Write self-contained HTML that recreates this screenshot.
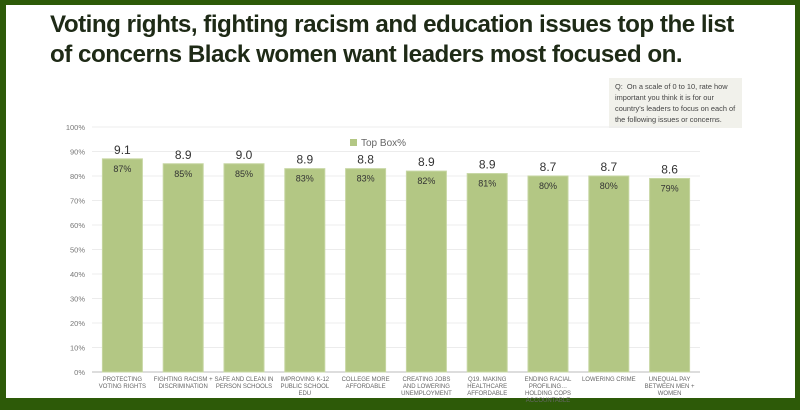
<!DOCTYPE html>
<html><head><meta charset="utf-8"><style>
body{margin:0;width:800px;height:410px;overflow:hidden;background:#2d5a08;font-family:"Liberation Sans",sans-serif}
#inner{position:absolute;left:6px;top:5px;width:789px;height:393px;background:#fff}
#title{position:absolute;left:44px;top:5px;font-size:24.2px;font-weight:bold;color:#1e2a16;line-height:30px;letter-spacing:-0.5px;margin:0}
#note{position:absolute;left:603px;top:73px;width:121px;height:44px;background:#f1f1eb;padding:3px 6px;font-size:7.4px;line-height:11px;color:#444}
svg{position:absolute;left:0;top:0}
</style></head><body>
<div id="inner">
<h1 id="title">Voting rights, fighting racism and education issues top the list<br>of concerns Black women want leaders most focused on.</h1>
<div id="note">Q:&nbsp; On a scale of 0 to 10, rate how important you think it is for our country's leaders to focus on each of the following issues or concerns.</div>
</div>
<svg id="chart" width="800" height="410"></svg>
<script>
const categories=[["PROTECTING","VOTING RIGHTS"],["FIGHTING RACISM +","DISCRIMINATION"],["SAFE AND CLEAN IN","PERSON SCHOOLS"],["IMPROVING K-12","PUBLIC SCHOOL","EDU"],["COLLEGE MORE","AFFORDABLE"],["CREATING JOBS","AND LOWERING","UNEMPLOYMENT"],["Q19.  MAKING","HEALTHCARE","AFFORDABLE"],["ENDING RACIAL","PROFILING…","HOLDING COPS","ACCOUNTABLE"],["LOWERING CRIME"],["UNEQUAL PAY","BETWEEN MEN +","WOMEN"]];
const topBox=[87,85,85,83,83,82,81,80,80,79];
const meanScores=["9.1","8.9","9.0","8.9","8.8","8.9","8.9","8.7","8.7","8.6"];
const yTicks=[0,10,20,30,40,50,60,70,80,90,100];
const svg=document.getElementById('chart');const NS='http://www.w3.org/2000/svg';
const x0=92,x1=700,y0=372,y1=127;
const yS=v=>y0-(v/100)*(y0-y1);
const bw=(x1-x0)/categories.length;
const xC=i=>x0+bw*(i+0.5);
function mk(t,a,txt){const e=document.createElementNS(NS,t);for(const k in a)e.setAttribute(k,a[k]);if(txt!==undefined)e.textContent=txt;svg.appendChild(e);return e;}
yTicks.forEach(v=>{
 const g=mk('line',{x1:x0,x2:x1,y1:yS(v),y2:yS(v),stroke:v?'#ececec':'#bbb','stroke-width':1});
 
 
 const t=mk('text',{x:85,y:yS(v)+3,'text-anchor':'end','font-size':7.5,fill:'#777'},v+'%');
 
 
});
categories.forEach((c,i)=>{
 const cx=xC(i),top=yS(topBox[i]);
 const r=mk('rect',{x:cx-20,y:top,width:40,height:y0-top,fill:'#b3c784',stroke:'#c6d6a2','stroke-width':1});
 
 
 const p=mk('text',{x:cx,y:top+13,'text-anchor':'middle','font-size':9,fill:'#333'},topBox[i]+'%');
 
 
 const m=mk('text',{x:cx,y:top-5,'text-anchor':'middle','font-size':12,fill:'#333'},meanScores[i]);
 
 
 c.forEach((ln,j)=>{
  const t=mk('text',{x:cx,y:y0+9+j*7,'text-anchor':'middle','font-size':6,fill:'#666'},ln);
  
  
 });
});
const ls=mk('rect',{x:350,y:139,width:7,height:7,fill:'#b3c784'});


const lt=mk('text',{x:361,y:146,'font-size':10,fill:'#666'},'Top Box%');


</script>
</body></html>
